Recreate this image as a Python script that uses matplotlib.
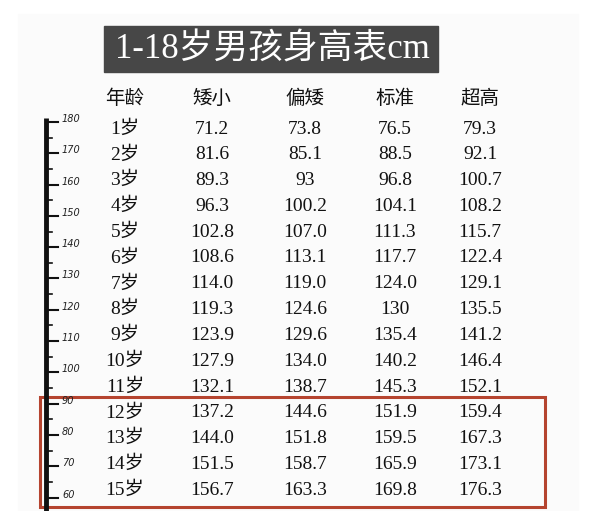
import matplotlib
matplotlib.use("Agg")
import matplotlib.pyplot as plt
from matplotlib.patches import Rectangle

title = "1-18岁男孩身高表cm"
headers = ["年龄", "矮小", "偏矮", "标准", "超高"]
ages = ["1岁","2岁","3岁","4岁","5岁","6岁","7岁","8岁","9岁","10岁","11岁","12岁","13岁","14岁","15岁"]
short = ["71.2","81.6","89.3","96.3","102.8","108.6","114.0","119.3","123.9","127.9","132.1","137.2","144.0","151.5","156.7"]
low = ["73.8","85.1","93","100.2","107.0","113.1","119.0","124.6","129.6","134.0","138.7","144.6","151.8","158.7","163.3"]
std = ["76.5","88.5","96.8","104.1","111.3","117.7","124.0","130","135.4","140.2","145.3","151.9","159.5","165.9","169.8"]
tall = ["79.3","92.1","100.7","108.2","115.7","122.4","129.1","135.5","141.2","146.4","152.1","159.4","167.3","173.1","176.3"]
ruler = [180,170,160,150,140,130,120,110,100,90,80,70,60]

fig = plt.figure(figsize=(5.95,5.11), dpi=100)
ax = fig.add_axes([0,0,1,1])
ax.set_xlim(0,595); ax.set_ylim(511,0); ax.axis("off")
ax.add_patch(Rectangle((18,14),560,497,color="#fbfbfb",zorder=0))

ax.add_patch(Rectangle((104,26),334,46,color="#474747"))
ax.text(272,50,title,ha="center",va="center",color="white",fontsize=25,
        family=["Liberation Serif","Noto Sans CJK SC"])

cols = [125,212,305,395,480]
for x,h in zip(cols,headers):
    ax.text(x,98,h,ha="center",va="center",fontsize=14,fontweight="medium",family=["Noto Sans CJK SC"],color="#111")
r0, dr = 129, 25.8
fam = ["Liberation Serif","Noto Sans CJK SC"]
for i,row in enumerate(zip(ages,short,low,std,tall)):
    y = r0+i*dr
    for x,v in zip(cols,row):
        ax.text(x,y,v,ha="center",va="center",fontsize=14,family=fam,color="#111")

# ruler
ax.plot([46,46],[118,511],color="#111",lw=3.5,solid_capstyle="butt")
y0, dy = 122, 31.3
for i,v in enumerate(ruler):
    y = y0+i*dy
    ax.plot([46,58],[y,y],color="#111",lw=1.5)
    ax.text(62,y-3,str(v),fontsize=7,style="italic",va="center",ha="left",color="#222")
    ax.plot([46,52],[y+dy/2,y+dy/2],color="#111",lw=1.2)

ax.add_patch(Rectangle((40,397),505,110,fill=False,ec="#b5442f",lw=2.2))
fig.savefig("out.png",dpi=100)
